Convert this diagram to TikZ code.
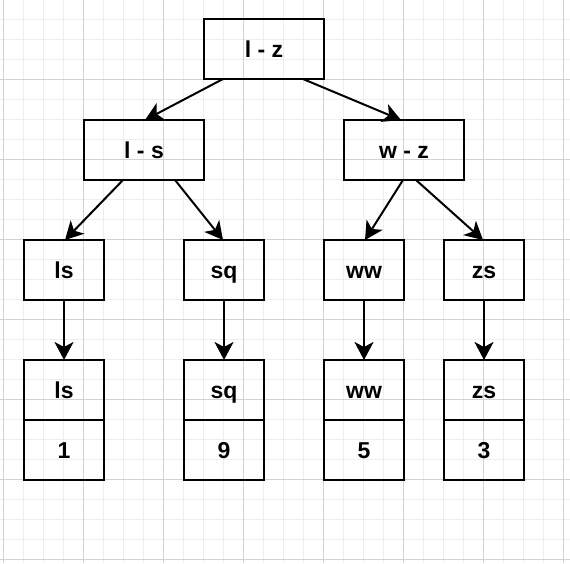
\documentclass[tikz,border=0pt]{standalone}
\usepackage{fontspec}
\setmainfont{Liberation Sans}
\usetikzlibrary{arrows.meta}
\definecolor{gmin}{HTML}{EEEEEE}
\definecolor{gmaj}{HTML}{D2D2D2}
\begin{document}
\begin{tikzpicture}[x=1pt,y=-1pt,
  box/.style={draw, line width=2pt, minimum width=80pt, minimum height=60pt,
    inner sep=0pt, outer sep=0pt, text height=17pt, text depth=0pt,
    font=\fontsize{23}{27}\selectfont\bfseries},
  wide/.style={box, minimum width=120pt},
  arr/.style={line width=2pt, -{Stealth[length=18pt,width=19pt,inset=5pt]}}]
\useasboundingbox (0,0) rectangle (570,563);
\fill[white] (0,0) rectangle (570,563);
% grid
\foreach \x in {3,23,...,563} \draw[gmin, line width=1pt] (\x,0) -- (\x,563);
\foreach \y in {19,39,...,559} \draw[gmin, line width=1pt] (0,\y) -- (570,\y);
\foreach \x in {3,83,...,563} \draw[gmaj, line width=1pt] (\x,0) -- (\x,563);
\foreach \y in {79,159,...,559} \draw[gmaj, line width=1pt] (0,\y) -- (570,\y);
% nodes
\node[wide] (lz) at (264,49) {l - z};
\node[wide] (lsn) at (144,150) {l - s};
\node[wide] (wz) at (404,150) {w - z};
\node[box] (ls) at (64,270) {ls};
\node[box] (sq) at (224,270) {sq};
\node[box] (ww) at (364,270) {ww};
\node[box] (zs) at (484,270) {zs};
\node[box] (lsk) at (64,390) {ls};
\node[box] (lsv) at (64,450) {1};
\node[box] (sqk) at (224,390) {sq};
\node[box] (sqv) at (224,450) {9};
\node[box] (wwk) at (364,390) {ww};
\node[box] (wwv) at (364,450) {5};
\node[box] (zsk) at (484,390) {zs};
\node[box] (zsv) at (484,450) {3};
% connectors
\draw[arr] ([xshift=-41pt]lz.south) -- ([xshift=1pt]lsn.north);
\draw[arr] ([xshift=39pt]lz.south) -- ([xshift=-3pt]wz.north);
\draw[arr] ([xshift=-21pt]lsn.south) -- ([xshift=1pt]ls.north);
\draw[arr] ([xshift=31pt]lsn.south) -- ([xshift=-1pt]sq.north);
\draw[arr] ([xshift=-1pt]wz.south) -- ([xshift=1pt]ww.north);
\draw[arr] ([xshift=12pt]wz.south) -- ([xshift=-1pt]zs.north);
\draw[arr] (ls) -- (lsk);
\draw[arr] (sq) -- (sqk);
\draw[arr] (ww) -- (wwk);
\draw[arr] (zs) -- (zsk);
\end{tikzpicture}
\end{document}
